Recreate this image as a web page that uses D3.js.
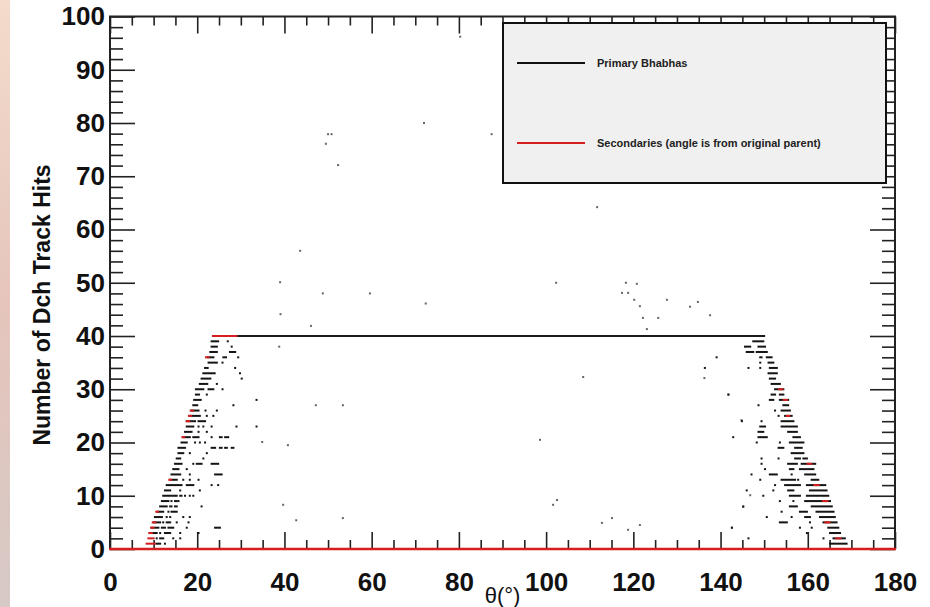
<!DOCTYPE html>
<html>
<head>
<meta charset="utf-8">
<script src="https://cdn.jsdelivr.net/npm/d3@7"></script>
<style>
  html, body { margin: 0; padding: 0; background: #fff; }
  #chart { width: 930px; height: 607px; }
</style>
</head>
<body>
<div id="chart"></div>
<script>
// hits vs theta
// segments: [hits, thetaStart, thetaEnd]  (single dot when start == end)

const xTicks = [0, 20, 40, 60, 80, 100, 120, 140, 160, 180];
const yTicks = [0, 10, 20, 30, 40, 50, 60, 70, 80, 90, 100];

const legendLabels = ["Primary Bhabhas", "Secondaries (angle is from original parent)"];
const legendColors = ["#111", "#d61e1e"];

// primary plateau and secondary baseline
const primaryLine = [[40, 24.0, 150.0]];
const secondaryLine = [[0, 0, 180]];

const leftBlack = [
  [39,23.3,24.8],[39,27.0,27.0],
  [38,23.3,24.5],[38,27.9,27.9],
  [37,23.0,24.5],[37,27.5,28.7],
  [36,22.4,23.7],[36,26.0,26.6],[36,29.4,29.4],
  [35,22.6,24.5],[35,25.8,25.8],
  [34,21.8,22.4],[34,28.7,28.7],
  [33,21.4,24.0],[33,29.8,29.8],
  [32,21.0,23.0],[32,30.2,30.2],
  [31,20.6,22.3],[31,24.5,24.5],
  [30,19.7,21.4],[30,22.6,23.7],[30,25.8,25.8],
  [29,19.7,20.4],[29,22.2,22.2],
  [28,19.3,20.8],[28,33.6,33.6],
  [27,19.1,20.0],[27,28.3,28.3],
  [26,18.7,20.3],[26,21.9,21.9],[26,24.5,24.5],
  [25,18.3,20.6],[25,22.2,22.2],[25,23.7,23.7],
  [24,17.6,19.5],[24,20.3,21.8],
  [23,17.6,19.1],[23,20.3,20.3],[23,21.4,21.4],[23,23.3,23.3],[23,29.0,29.0],[23,33.6,33.6],
  [22,17.2,18.7],[22,20.3,20.3],[22,22.2,22.2],
  [21,16.8,18.3],[21,19.1,20.3],[21,23.3,23.3],[21,25.2,25.6],[21,26.4,27.1],
  [20,16.4,17.6],[20,19.5,19.5],[20,20.6,20.6],[20,21.8,21.8],
  [19,15.7,17.2],[19,23.3,24.1],[19,25.2,25.6],[19,26.4,26.8],[19,27.9,28.3],
  [18,15.7,16.8],[18,18.3,18.3],[18,22.2,22.2],
  [17,15.3,16.1],[17,21.4,21.4],
  [16,14.9,16.4],[16,19.1,19.1],[16,19.9,21.0],[16,23.3,24.8],
  [15,14.5,15.7],[15,17.6,17.6],
  [14,14.1,16.1],[14,18.3,18.3],[14,24.1,25.6],
  [13,13.8,15.3],[13,16.8,16.8],[13,18.3,18.3],[13,20.3,20.3],
  [12,13.0,14.9],[12,15.3,16.4],[12,17.6,19.1],[12,23.3,23.3],[12,24.8,24.8],
  [11,12.6,13.8],[11,16.1,16.1],[11,20.6,20.6],
  [10,12.2,14.1],[10,14.5,14.9],[10,15.3,15.3],[10,16.1,16.4],[10,17.2,17.2],[10,18.3,18.3],[10,19.1,19.1],
  [9,11.9,13.4],[9,14.1,14.1],[9,14.9,15.3],[9,15.7,15.7],
  [8,11.5,13.0],[8,13.8,14.1],[8,14.9,15.3],[8,21.0,21.0],
  [7,10.9,12.2],[7,13.4,13.4],[7,14.1,14.5],[7,14.9,15.3],
  [6,10.3,11.9],[6,13.0,13.0],[6,13.8,13.8],[6,16.8,16.8],[6,18.3,18.3],
  [5,10.0,11.5],[5,12.2,12.2],[5,13.0,13.8],[5,15.3,15.3],[5,18.0,18.0],
  [4,9.6,11.1],[4,11.9,12.6],[4,13.4,14.5],[4,17.6,17.6],[4,24.1,25.2],
  [3,9.2,10.7],[3,11.5,11.5],[3,12.6,13.8],[3,16.1,16.1],[3,20.3,20.3],
  [2,10.7,10.7],[2,11.5,12.2],[2,14.5,14.5],[2,16.1,16.1],
  [1,10.7,11.5],[1,12.6,12.6]
];

const leftRed = [
  [40,23.6,29.0],[36,22.0,22.6],[26,18.5,19.0],[25,18.1,18.6],[24,17.6,18.2],
  [21,16.6,17.0],[13,13.6,14.0],[7,10.6,11.0],[5,9.8,10.4],[4,9.4,10.0],
  [3,9.0,9.6],[2,8.8,10.0],[1,8.4,10.3]
];

const rightBlack = [
  [39,147.5,149.8],
  [38,145.6,146.8],[38,148.7,150.2],
  [37,146.0,147.5],[37,148.3,150.6],
  [36,139.1,139.1],[36,149.1,149.4],[36,150.6,151.7],
  [35,149.1,149.1],[35,151.0,152.1],
  [34,136.4,136.4],[34,146.4,146.4],[34,149.1,149.1],[34,151.3,152.9],
  [33,151.0,152.9],
  [32,151.3,152.5],
  [31,151.7,153.6],
  [30,152.5,154.4],
  [29,141.8,141.8],[29,151.7,152.5],[29,153.6,154.4],
  [28,151.3,152.1],[28,153.6,155.5],
  [27,148.7,148.7],[27,154.4,155.5],
  [26,152.5,152.5],[26,154.0,155.9],
  [25,153.3,153.3],[25,154.8,156.3],
  [24,144.9,144.9],[24,149.4,149.4],[24,154.0,156.7],
  [23,149.1,150.2],[23,154.0,157.5],
  [22,148.7,149.8],[22,155.5,157.5],
  [21,142.9,142.9],[21,148.7,150.6],[21,156.7,158.2],
  [20,148.3,148.3],[20,153.6,153.6],[20,155.9,159.0],
  [19,153.3,154.4],[19,157.1,158.6],
  [18,156.3,159.0],
  [17,149.4,149.4],[17,153.3,153.3],[17,157.1,158.2],[17,159.0,159.8],
  [16,149.4,149.4],[16,155.5,157.5],[16,158.6,161.7],
  [15,150.2,150.2],[15,155.9,156.7],[15,158.2,161.3],
  [14,147.1,147.1],[14,151.3,152.9],[14,156.3,156.3],[14,159.4,161.7],
  [13,149.1,149.1],[13,154.0,157.1],[13,157.8,157.8],[13,160.9,162.4],
  [12,152.5,152.5],[12,154.8,158.2],[12,159.8,164.0],
  [11,146.0,146.0],[11,152.1,152.1],[11,155.5,156.7],[11,160.5,164.3],
  [10,149.8,149.8],[10,155.9,158.2],[10,159.8,164.7],
  [9,153.6,153.6],[9,156.7,156.7],[9,159.4,165.1],
  [8,145.2,145.2],[8,155.9,157.5],[8,160.9,165.5],
  [7,154.0,154.0],[7,158.2,159.8],[7,162.0,165.9],
  [6,150.6,150.6],[6,156.3,156.3],[6,159.4,160.5],[6,162.8,166.2],
  [5,153.6,155.2],[5,160.5,160.5],[5,163.6,166.6],
  [4,142.6,142.6],[4,158.2,158.2],[4,160.9,160.9],[4,164.7,167.0],
  [3,159.8,159.8],[3,165.1,167.4],
  [2,146.4,146.4],[2,163.6,163.6],[2,165.9,168.5],
  [1,165.1,168.9]
];

const rightRed = [
  [30,153.4,154.2],[28,154.5,155.2],[25,155.2,155.8],[16,160.0,160.8],
  [12,161.5,162.5],[9,163.5,164.5],[5,164.0,165.0],[2,166.5,167.5]
];

// isolated entries away from the bands: [theta, hits]
const strays = [
  [80.3,96.2],[72.0,80.0],[87.5,77.9],[50.0,77.9],[50.8,77.9],[49.5,76.1],[52.3,72.1],
  [111.7,64.2],[43.6,56.0],[39.0,50.1],[102.3,50.0],[118.3,50.0],[120.8,49.8],
  [48.8,48.0],[59.6,48.0],[117.4,48.1],[118.8,48.1],[72.4,46.1],[120.2,46.8],
  [127.7,46.8],[134.8,46.4],[133.0,45.5],[121.5,45.6],[39.1,44.1],[137.6,43.9],
  [122.2,43.4],[125.7,43.4],[46.1,41.9],[123.1,41.3],[38.8,38.0],[136.3,32.1],
  [108.5,32.3],[141.8,29.0],[47.2,27.0],[53.4,27.0],[144.8,24.2],[98.6,20.5],
  [40.8,19.5],[34.9,20.1],[146.8,10.1],[102.5,9.2],[101.6,8.3],[39.7,8.3],
  [145.2,7.9],[53.4,5.8],[115.1,5.8],[42.7,5.4],[112.8,4.9],[121.5,4.5],
  [142.6,4.0],[118.8,3.6]
];

const W = 930, H = 607;
const plot = { left: 110, right: 895, top: 16.5, bottom: 549 };
const font = "'Liberation Sans', Arial, Helvetica, sans-serif";

const svg = d3.select("#chart").append("svg")
  .attr("width", W).attr("height", H)
  .style("font-family", font);

// slide-edge strip on the left
const grad = svg.append("defs").append("linearGradient")
  .attr("id", "strip").attr("x1", 0).attr("y1", 0).attr("x2", 0).attr("y2", 1);
grad.append("stop").attr("offset", "0%").attr("stop-color", "#f3dccb");
grad.append("stop").attr("offset", "50%").attr("stop-color", "#e5c5bc");
grad.append("stop").attr("offset", "100%").attr("stop-color", "#d7c9c5");
svg.append("rect").attr("x", 0).attr("y", 0).attr("width", 10).attr("height", H)
  .attr("fill", "url(#strip)");

const x = d3.scaleLinear().domain([0, 180]).range([plot.left, plot.right]);
const y = d3.scaleLinear().domain([0, 100]).range([plot.bottom, plot.top]);

const xMinor = d3.range(0, 181, 5).filter(v => v % 20 !== 0);
const yMinor = d3.range(0, 101, 2).filter(v => v % 10 !== 0);

function styleAxis(sel) {
  sel.select(".domain").remove();
  sel.selectAll(".tick line").attr("stroke", "#222").attr("stroke-width", 1.6);
}

// ticks, all pointing inwards
const axes = svg.append("g");
axes.append("g").attr("transform", `translate(0,${plot.bottom})`)
  .call(d3.axisBottom(x).tickValues(xTicks).tickSize(-17).tickPadding(24).tickFormat(d3.format("d")))
  .call(styleAxis)
  .selectAll("text").attr("font-size", 26).attr("font-weight", "bold").attr("fill", "#111")
  .attr("font-family", font);
axes.append("g").attr("transform", `translate(0,${plot.bottom})`)
  .call(d3.axisBottom(x).tickValues(xMinor).tickSize(-9).tickFormat(""))
  .call(styleAxis);
axes.append("g").attr("transform", `translate(0,${plot.top})`)
  .call(d3.axisTop(x).tickValues(xTicks).tickSize(-17).tickFormat(""))
  .call(styleAxis);
axes.append("g").attr("transform", `translate(0,${plot.top})`)
  .call(d3.axisTop(x).tickValues(xMinor).tickSize(-9).tickFormat(""))
  .call(styleAxis);

axes.append("g").attr("transform", `translate(${plot.left},0)`)
  .call(d3.axisLeft(y).tickValues(yTicks).tickSize(-25).tickPadding(5).tickFormat(d3.format("d")))
  .call(styleAxis)
  .selectAll("text").attr("font-size", 26).attr("font-weight", "bold").attr("fill", "#111")
  .attr("font-family", font);
axes.append("g").attr("transform", `translate(${plot.left},0)`)
  .call(d3.axisLeft(y).tickValues(yMinor).tickSize(-13).tickFormat(""))
  .call(styleAxis);
axes.append("g").attr("transform", `translate(${plot.right},0)`)
  .call(d3.axisRight(y).tickValues(yTicks).tickSize(-25).tickFormat(""))
  .call(styleAxis);
axes.append("g").attr("transform", `translate(${plot.right},0)`)
  .call(d3.axisRight(y).tickValues(yMinor).tickSize(-13).tickFormat(""))
  .call(styleAxis);

// scatter contents
const marks = svg.append("g");

function drawSegments(data, color, h) {
  marks.append("g").selectAll("rect")
    .data(data)
    .join("rect")
    .attr("x", d => x(d[1]) - 1)
    .attr("y", d => y(d[0]) - h / 2)
    .attr("width", d => Math.max(2, x(d[2]) - x(d[1]) + 2))
    .attr("height", h)
    .attr("fill", color);
}

marks.append("g").selectAll("rect")
  .data(strays)
  .join("rect")
  .attr("x", d => x(d[0]) - 1)
  .attr("y", d => y(d[1]) - 1)
  .attr("width", 2).attr("height", 2)
  .attr("fill", "#666");

drawSegments(leftBlack, "#151515", 2);
drawSegments(rightBlack, "#151515", 2);
drawSegments(primaryLine, "#1a1a1a", 2);
drawSegments(leftRed, "#d61e1e", 2);
drawSegments(rightRed, "#d61e1e", 2);

// frame
svg.append("rect")
  .attr("x", plot.left).attr("y", plot.top)
  .attr("width", plot.right - plot.left).attr("height", plot.bottom - plot.top)
  .attr("fill", "none").attr("stroke", "#222").attr("stroke-width", 2);

// zero-hit secondaries sit on the bottom edge
marks.raise();
drawSegments(secondaryLine, "#d61e1e", 2.5);

// axis titles
svg.append("text")
  .attr("transform", `translate(50,${305}) rotate(-90)`)
  .attr("text-anchor", "middle")
  .attr("font-size", 23).attr("font-weight", "bold").attr("fill", "#111")
  .text("Number of Dch Track Hits");

svg.append("text")
  .attr("x", (plot.left + plot.right) / 2).attr("y", 603)
  .attr("text-anchor", "middle")
  .attr("font-size", 22).attr("fill", "#111")
  .text("θ(°)");

// legend
const lg = svg.append("g");
lg.append("rect")
  .attr("x", 503).attr("y", 23).attr("width", 383).attr("height", 160)
  .attr("fill", "#f0f0f0").attr("stroke", "#111").attr("stroke-width", 2);
const entry = lg.selectAll("g.entry")
  .data(legendLabels)
  .join("g")
  .attr("class", "entry")
  .attr("transform", (d, i) => `translate(517,${63 + i * 80})`);
entry.append("line")
  .attr("x1", 0).attr("x2", 68)
  .attr("stroke", (d, i) => legendColors[i]).attr("stroke-width", 2);
entry.append("text")
  .attr("x", 80).attr("dy", "0.35em")
  .attr("font-size", 11).attr("font-weight", "bold").attr("fill", "#222")
  .text(d => d);
</script>
</body>
</html>
